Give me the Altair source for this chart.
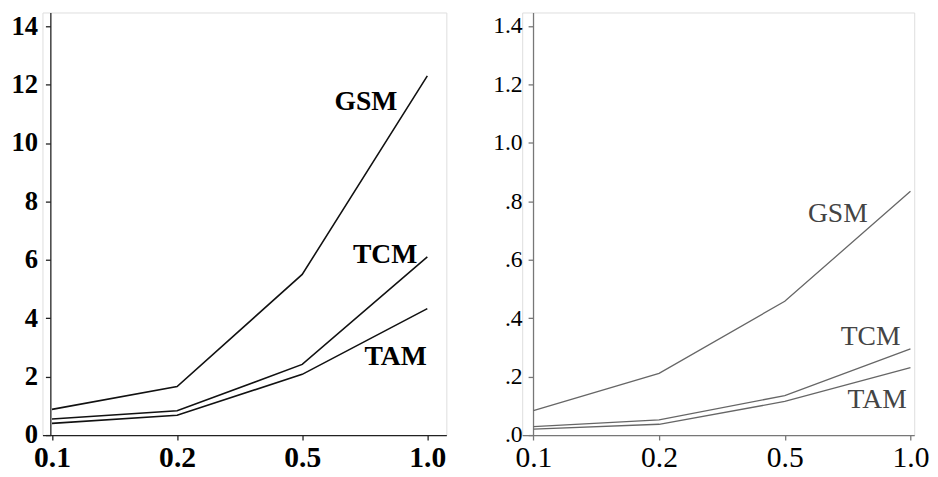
import json
import altair as alt
import pandas as pd

# ---- data ----
x_labels = ["0.1", "0.2", "0.5", "1.0"]
series_names = ["GSM", "TCM", "TAM"]

left_gsm = [0.88, 1.66, 5.5, 12.3]
left_tcm = [0.55, 0.83, 2.42, 6.1]
left_tam = [0.40, 0.68, 2.08, 4.33]

right_gsm = [0.084, 0.211, 0.458, 0.834]
right_tcm = [0.029, 0.052, 0.135, 0.295]
right_tam = [0.020, 0.037, 0.115, 0.231]

left_y_ticks = [0, 2, 4, 6, 8, 10, 12, 14]
right_y_ticks = [0.0, 0.2, 0.4, 0.6, 0.8, 1.0, 1.2, 1.4]

# label anchor positions (x index, y value) for series names
left_label_x = [2.76, 2.92, 2.995]
left_label_y = [11.4, 6.16, 2.66]
right_label_x = [2.66, 2.92, 2.97]
right_label_y = [0.755, 0.334, 0.121]


def long_df(series):
    rows = []
    for name, vals in zip(series_names, series):
        for i, v in enumerate(vals):
            rows.append({"series": name, "idx": i, "cat": x_labels[i], "value": v})
    return pd.DataFrame(rows)


left_df = long_df([left_gsm, left_tcm, left_tam])
right_df = long_df([right_gsm, right_tcm, right_tam])
left_lab = pd.DataFrame({"name": series_names, "x": left_label_x, "y": left_label_y})
right_lab = pd.DataFrame({"name": series_names, "x": right_label_x, "y": right_label_y})

x_expr = json.dumps(x_labels) + "[datum.value]"
FONT = "Liberation Serif"


def panel(df, lab, ydom, yticks, ylabel_expr, width, x_dom, yoff, bold,
          line_color, axis_color, text_color, line_w, yfs, ypad):
    weight = "bold" if bold else "normal"
    xs = alt.X(
        "idx:Q",
        scale=alt.Scale(domain=x_dom, nice=False, zero=False),
        axis=alt.Axis(
            values=[0, 1, 2, 3], labelExpr=x_expr, title=None, grid=False,
            labelFont=FONT, labelFontSize=30, labelFontWeight=weight, labelColor="#000",
            tickSize=5, labelPadding=3, domainColor=axis_color, tickColor=axis_color,
            domainWidth=1.3, tickWidth=1.3, labelFlush=False,
        ),
    )
    ys = alt.Y(
        "value:Q",
        scale=alt.Scale(domain=ydom, nice=False, zero=False),
        axis=alt.Axis(
            values=yticks, labelExpr=ylabel_expr, title=None, grid=False,
            labelFont=FONT, labelFontSize=yfs, labelFontWeight=weight, labelColor="#000",
            tickSize=5, labelPadding=ypad, offset=yoff, domainColor=axis_color,
            tickColor=axis_color, domainWidth=1.3, tickWidth=1.3, labelFlush=False,
        ),
    )
    lines = alt.Chart(df).mark_line(color=line_color, strokeWidth=line_w).encode(
        x=xs, y=ys, detail="series:N", order="idx:Q"
    )
    texts = alt.Chart(lab).mark_text(
        align="right", baseline="middle", font=FONT, fontSize=28,
        fontWeight=weight, color=text_color,
    ).encode(x=alt.X("x:Q"), y=alt.Y("y:Q"), text="name:N")
    return alt.layer(lines, texts).properties(width=width, height=429)


left = panel(
    left_df, left_lab, [0, 14.47], left_y_ticks, "format(datum.value, 'd')",
    410, [-0.076, 3.152], -8, True, "#111", "#222", "#000", 1.6, 27, 8,
)
right = panel(
    right_df, right_lab, [0, 1.446], right_y_ticks,
    "datum.value < 1 ? replace(format(datum.value, '.1f'), '0.', '.') : format(datum.value, '.1f')",
    398, [-0.089, 3.03], -11, False, "#666", "#777", "#444", 1.3, 24, 6,
)

chart = (
    alt.hconcat(left, right, spacing=45)
    .properties(padding={"top": 0, "left": 2, "right": 0, "bottom": 0})
    .configure_view(strokeWidth=0)
    .configure(background="white")
)

chart.save("out.html", embed_options={"renderer": "svg", "actions": False})
